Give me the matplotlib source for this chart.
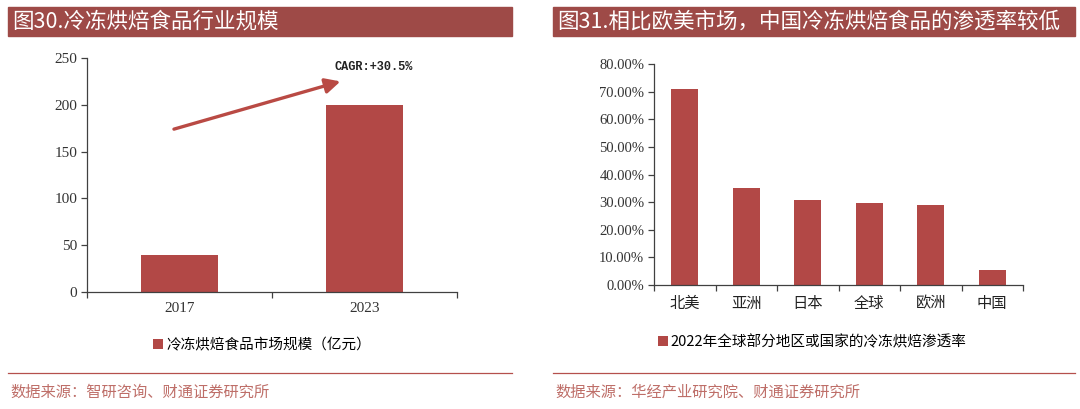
import matplotlib
matplotlib.use("Agg")
import matplotlib.pyplot as plt
from matplotlib.patches import Rectangle
from matplotlib.ticker import FixedLocator, FuncFormatter

plt.rcParams['font.family'] = ['Noto Sans CJK SC', 'DejaVu Sans']

# left chart data
years = ['2017', '2023']
market_size = [40, 200]  # 亿元
left_legend = '冷冻烘焙食品市场规模（亿元）'
left_title = '图30.冷冻烘焙食品行业规模'
left_source = '数据来源：智研咨询、财通证券研究所'
cagr_label = 'CAGR:+30.5%'

# right chart data
regions = ['北美', '亚洲', '日本', '全球', '欧洲', '中国']
penetration = [71.0, 35.1, 30.7, 29.6, 28.9, 5.3]  # %
right_legend = '2022年全球部分地区或国家的冷冻烘焙渗透率'
right_title = '图31.相比欧美市场，中国冷冻烘焙食品的渗透率较低'
right_source = '数据来源：华经产业研究院、财通证券研究所'

bar_color = '#B24846'
head_color = '#9E4A47'
src_color = '#BE6E68'

W, H = 1080, 409
fig = plt.figure(figsize=(W / 100, H / 100), dpi=100)


def px(x0, y0, x1, y1):
    # pixel box (top-left origin) -> figure fraction rect
    return [x0 / W, 1 - y1 / H, (x1 - x0) / W, (y1 - y0) / H]


def header(x0, x1, text):
    fig.patches.append(Rectangle((x0 / W, 1 - 36 / H), (x1 - x0) / W, 29 / H,
                                 transform=fig.transFigure, color=head_color, zorder=0))
    fig.text((x0 + 4) / W, 1 - 21.5 / H, text, color='white', fontsize=15.5,
             va='center', ha='left')


def footer(x0, x1, text):
    fig.add_artist(plt.Line2D([x0 / W, x1 / W], [1 - 373 / H] * 2,
                              transform=fig.transFigure, color='#B5504D', lw=0.9))
    fig.text((x0 + 2) / W, 1 - 392 / H, text, color=src_color, fontsize=11,
             va='center', ha='left')


def style_axes(ax):
    for s in ['top', 'right']:
        ax.spines[s].set_visible(False)
    for s in ['left', 'bottom']:
        ax.spines[s].set_color('#404040')
        ax.spines[s].set_linewidth(0.9)
    ax.tick_params(axis='y', direction='out', length=4, width=0.9, color='#404040',
                   labelsize=10.5, pad=3)
    ax.tick_params(axis='x', which='major', length=0, pad=7)
    ax.tick_params(axis='x', which='minor', direction='out', length=4, width=0.9,
                   color='#404040')


# ---- left chart ----
ax1 = fig.add_axes(px(87, 58, 457, 292))
x1 = list(range(len(years)))
b1 = ax1.bar(x1, market_size, width=0.42, color=bar_color)
ax1.set_xlim(-0.5, len(years) - 0.5)
ax1.set_ylim(0, 250)
ax1.set_yticks([0, 50, 100, 150, 200, 250])
ax1.set_xticks(x1)
ax1.set_xticklabels(years)
ax1.xaxis.set_minor_locator(FixedLocator([i - 0.5 for i in range(len(years) + 1)]))
style_axes(ax1)
for lab in ax1.get_xticklabels() + ax1.get_yticklabels():
    lab.set_fontfamily('Liberation Serif')
    lab.set_fontsize(11)
    lab.set_color('#333333')
ax1.annotate('', xy=(0.87, 225), xytext=(-0.03, 174),
             arrowprops=dict(arrowstyle='-|>,head_length=0.9,head_width=0.45',
                             color='#B94A44', lw=2.4, shrinkA=0, shrinkB=0),
             annotation_clip=False)
ax1.text(0.84, 240, cagr_label, fontsize=8.6, family='Liberation Mono',
         weight='bold', color='#222222', va='center', ha='left')
fig.legend(handles=[b1], labels=[left_legend], loc='center',
           bbox_to_anchor=(262 / W, 1 - 345 / H), frameon=False, fontsize=10.5,
           handlelength=0.7, handleheight=0.7, handletextpad=0.2)
header(8, 512, left_title)
footer(8, 512, left_source)

# ---- right chart ----
ax2 = fig.add_axes(px(654, 64, 1023, 285))
x2 = list(range(len(regions)))
b2 = ax2.bar(x2, penetration, width=0.44, color=bar_color)
ax2.set_xlim(-0.5, len(regions) - 0.5)
ax2.set_ylim(0, 80)
ax2.set_yticks(range(0, 81, 10))
ax2.yaxis.set_major_formatter(FuncFormatter(lambda v, p: f'{v:.2f}%'))
ax2.set_xticks(x2)
ax2.set_xticklabels(regions)
ax2.xaxis.set_minor_locator(FixedLocator([i - 0.5 for i in range(len(regions) + 1)]))
style_axes(ax2)
for lab in ax2.get_yticklabels():
    lab.set_fontfamily('Liberation Serif')
    lab.set_fontsize(10.5)
    lab.set_color('#333333')
for lab in ax2.get_xticklabels():
    lab.set_fontsize(11)
    lab.set_color('#222222')
fig.legend(handles=[b2], labels=[right_legend], loc='center',
           bbox_to_anchor=(812 / W, 1 - 342 / H), frameon=False, fontsize=10.5,
           handlelength=0.7, handleheight=0.7, handletextpad=0.2)
header(553, 1075, right_title)
footer(553, 1075, right_source)

fig.savefig('out.png', dpi=100, facecolor='white')
